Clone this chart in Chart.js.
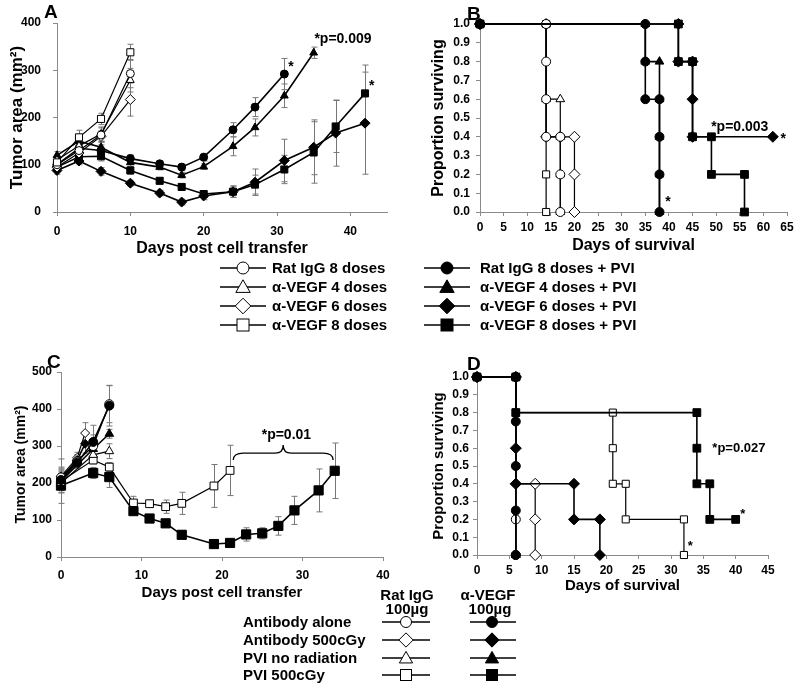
<!DOCTYPE html>
<html><head><meta charset="utf-8">
<script src="https://cdn.jsdelivr.net/npm/chart.js@4/dist/chart.umd.min.js"></script>
<style>
body{margin:0;background:#fff;width:800px;height:685px;overflow:hidden;position:relative;font-family:"Liberation Sans",Arial,sans-serif;}
canvas{position:absolute;}
.t{position:absolute;font-weight:bold;color:#000;white-space:nowrap;}
svg{position:absolute;overflow:visible;}
</style></head><body>
<canvas id="cA" width="400" height="265" style="left:0;top:0"></canvas>
<canvas id="cB" width="400" height="265" style="left:400px;top:0"></canvas>
<canvas id="cC" width="400" height="265" style="left:0;top:340px"></canvas>
<canvas id="cD" width="400" height="265" style="left:400px;top:340px"></canvas>
<div id="legends"></div>
<script>
// ---------- Panel A : tumor area ----------
const A_daysOpen = [0, 3, 6, 10];
const A_ratIgG8 = [100, 130, 163, 293];
const A_vegf4 = [110, 140, 165, 279];
const A_vegf6 = [95, 125, 160, 238];
const A_vegf8 = [105, 158, 197, 338];
const A_ratIgG8_err = [8, 12, 15, 30];
const A_vegf4_err = [8, 12, 15, 25];
const A_vegf6_err = [8, 10, 12, 35];
const A_vegf8_err = [8, 15, 12, 17];
const A_daysRatPVI = [0, 3, 6, 10, 14, 17, 20, 24, 27, 31];
const A_ratIgG8PVI = [100, 135, 130, 113, 102, 95, 116, 174, 222, 292];
const A_ratIgG8PVI_err = [8, 10, 12, 8, 6, 6, 8, 15, 20, 33];
const A_days4PVI = [0, 3, 6, 10, 14, 17, 20, 24, 27, 31, 35];
const A_vegf4PVI = [120, 150, 137, 105, 95, 78, 96, 139, 179, 246, 337];
const A_vegf4PVI_err = [8, 12, 12, 8, 6, 6, 6, 20, 18, 25, 12];
const A_days68PVI = [0, 3, 6, 10, 14, 17, 20, 24, 27, 31, 35, 38, 42];
const A_vegf6PVI = [88, 108, 86, 61, 40, 21, 34, 43, 63, 109, 137, 167, 188];
const A_vegf6PVI_err = [8, 8, 8, 6, 6, 6, 8, 12, 28, 45, 58, 70, 108];
const A_vegf8PVI = [95, 117, 118, 88, 66, 53, 38, 43, 58, 90, 126, 181, 251];
const A_vegf8PVI_err = [8, 10, 10, 8, 6, 6, 6, 12, 20, 30, 65, 55, 60];

// ---------- Panel B : survival ----------
const B_rat8_t = [0, 14, 14, 14, 14, 17, 17, 17];
const B_rat8_p = [1, 1, 0.8, 0.6, 0.4, 0.4, 0.2, 0];
const B_v4_t = [0, 14, 14, 17, 17, 17, 17];
const B_v4_p = [1, 1, 0.6, 0.6, 0.4, 0.2, 0];
const B_v6_t = [0, 14, 14, 17, 20, 20, 20];
const B_v6_p = [1, 1, 0.4, 0.4, 0.4, 0.2, 0];
const B_v8_t = [0, 14, 14, 14];
const B_v8_p = [1, 1, 0.2, 0];
const B_rat8PVI_t = [0, 35, 35, 35, 38, 38, 38, 38];
const B_rat8PVI_p = [1, 1, 0.8, 0.6, 0.6, 0.4, 0.2, 0];
const B_v4PVI_t = [0, 35, 35, 38, 38, 38, 38, 38];
const B_v4PVI_p = [1, 1, 0.8, 0.8, 0.6, 0.4, 0.2, 0];
const B_v6PVI_t = [0, 42, 42, 45, 45, 45, 62];
const B_v6PVI_p = [1, 1, 0.8, 0.8, 0.6, 0.4, 0.4];
const B_v8PVI_t = [0, 42, 42, 45, 45, 49, 49, 56, 56];
const B_v8PVI_p = [1, 1, 0.8, 0.8, 0.4, 0.4, 0.2, 0.2, 0];

// ---------- Panel C : tumor area ----------
const C_daysAlone = [0, 2, 4, 6];
const C_ratAlone = [215, 258, 300, 413];
const C_ratAlone_err = [25, 15, 30, 50];
const C_vegfAlone = [208, 255, 311, 409];
const C_vegfAlone_err = [25, 15, 45, 55];
const C_days500 = [0, 2, 3];
const C_rat500 = [218, 268, 335];
const C_rat500_err = [25, 15, 28];
const C_vegf500 = [212, 262, 306];
const C_vegf500_err = [25, 15, 25];
const C_daysPVI = [0, 4, 6];
const C_ratPVI = [200, 276, 286];
const C_ratPVI_err = [25, 18, 20];
const C_vegfPVI = [205, 292, 333];
const C_vegfPVI_err = [25, 20, 12];
const C_daysRatPVI500 = [0, 4, 6, 9, 11, 13, 15, 19, 21];
const C_ratPVI500 = [205, 262, 243, 146, 144, 136, 145, 192, 234];
const C_ratPVI500_err = [60, 10, 12, 18, 10, 18, 30, 58, 68];
const C_daysVegfPVI500 = [0, 4, 6, 9, 11, 13, 15, 19, 21, 23, 25, 27, 29, 32, 34];
const C_vegfPVI500 = [193, 227, 216, 124, 104, 91, 60, 35, 38, 61, 64, 84, 126, 180, 233];
const C_vegfPVI500_err = [20, 15, 28, 8, 8, 8, 10, 12, 8, 18, 15, 25, 38, 58, 75];

// ---------- Panel D : survival ----------
const D_ratAlone_t = [0, 6, 6, 6];
const D_ratAlone_p = [1, 1, 0.2, 0];
const D_vegfAlone_t = [0, 6, 6, 6, 6, 6];
const D_vegfAlone_p = [1, 1, 0.75, 0.5, 0.25, 0];
const D_rat500_t = [0, 6, 6, 9, 9, 9];
const D_rat500_p = [1, 1, 0.4, 0.4, 0.2, 0];
const D_vegf500_t = [0, 6, 6, 6, 15, 15, 19, 19];
const D_vegf500_p = [1, 1, 0.6, 0.4, 0.4, 0.2, 0.2, 0];
const D_ratPVI_t = [0, 6, 6];
const D_ratPVI_p = [1, 1, 0];
const D_vegfPVI_t = [0, 6, 6];
const D_vegfPVI_p = [1, 1, 0];
const D_ratPVI500_t = [0, 6, 6, 21, 21, 21, 23, 23, 32, 32];
const D_ratPVI500_p = [1, 1, 0.8, 0.8, 0.6, 0.4, 0.4, 0.2, 0.2, 0];
const D_vegfPVI500_t = [0, 6, 6, 34, 34, 34, 36, 36, 40];
const D_vegfPVI500_p = [1, 1, 0.8, 0.8, 0.6, 0.4, 0.4, 0.2, 0.2];

// ---------- Legend text ----------
const legendTopOpen = ['Rat IgG 8 doses', 'α-VEGF 4 doses', 'α-VEGF 6 doses', 'α-VEGF 8 doses'];
const legendTopFilled = ['Rat IgG 8 doses + PVI', 'α-VEGF 4 doses + PVI', 'α-VEGF 6 doses + PVI', 'α-VEGF 8 doses + PVI'];
const legendTopShapes = ['circle', 'triangle', 'rectRot', 'rect'];
const legendBottomRows = ['Antibody alone', 'Antibody 500cGy', 'PVI no radiation', 'PVI 500cGy'];
const legendBottomShapes = ['circle', 'rectRot', 'triangle', 'rect'];
const legendBottomHeads = [['Rat IgG', '100µg'], ['α-VEGF', '100µg']];

const FONT = '"Liberation Sans", Arial, sans-serif';
const AXC = '#8a8a8a';

function pts(xs, ys) { return xs.map((x, i) => ({ x: x, y: ys[i] })); }
function ds(label, xs, ys, shape, filled, r, errs) {
  return {
    label: label, data: pts(xs, ys), errors: errs, showLine: true, clip: false,
    borderColor: '#000', borderWidth: filled ? 1.6 : 1.2,
    pointStyle: shape, pointRadius: r, pointBackgroundColor: filled ? '#000' : '#fff',
    pointBorderColor: '#000', pointBorderWidth: 1, tension: 0
  };
}
function axis(o) {
  return {
    type: 'linear', min: o.min, max: o.max,
    afterFit: function (s) { if (s.isHorizontal()) s.height = o.size; else s.width = o.size; },
    border: { display: true, color: AXC, width: 1 },
    grid: { display: true, drawOnChartArea: false, drawTicks: true, tickLength: 4, color: AXC },
    ticks: {
      stepSize: o.step, includeBounds: false, padding: o.pad, color: '#000', autoSkip: false, maxRotation: 0,
      font: { family: FONT, size: o.fs, weight: 'bold' }, callback: o.cb
    },
    title: { display: true, text: o.title, color: '#000', font: { family: FONT, size: o.tfs, weight: 'bold' }, padding: o.tpad }
  };
}
const errPlugin = {
  id: 'errbars',
  beforeDatasetsDraw(chart) {
    const c = chart.ctx, xs = chart.scales.x, ys = chart.scales.y;
    c.save(); c.strokeStyle = '#777'; c.lineWidth = 1;
    chart.data.datasets.forEach(d => {
      if (!d.errors) return;
      d.data.forEach((p, j) => {
        const e = d.errors[j]; if (!e) return;
        const px = Math.round(xs.getPixelForValue(p.x)) + 0.5;
        const t = ys.getPixelForValue(p.y + e), b = ys.getPixelForValue(Math.max(0, p.y - e));
        c.beginPath(); c.moveTo(px, t); c.lineTo(px, b);
        c.moveTo(px - 3, t); c.lineTo(px + 3, t); c.moveTo(px - 3, b); c.lineTo(px + 3, b); c.stroke();
      });
    });
    c.restore();
  }
};
function notesPlugin(notes, bracket) {
  return {
    id: 'notes',
    afterDatasetsDraw(chart) {
      const c = chart.ctx, xs = chart.scales.x, ys = chart.scales.y;
      c.save(); c.fillStyle = '#000';
      notes.forEach(n => {
        c.font = 'bold ' + n.size + 'px ' + FONT; c.textAlign = 'center'; c.textBaseline = 'middle';
        c.fillText(n.text, xs.getPixelForValue(n.x), ys.getPixelForValue(n.y));
      });
      if (bracket) {
        const x1 = xs.getPixelForValue(bracket.x1), x2 = xs.getPixelForValue(bracket.x2), xm = xs.getPixelForValue(bracket.xm);
        const ye = ys.getPixelForValue(bracket.yEnd), yl = ys.getPixelForValue(bracket.yLine), yp = ys.getPixelForValue(bracket.yPeak);
        c.strokeStyle = '#000'; c.lineWidth = 1.3; c.beginPath();
        c.moveTo(x1, ye); c.quadraticCurveTo(x1, yl, x1 + 10, yl); c.lineTo(xm - 8, yl);
        c.quadraticCurveTo(xm, yl, xm, yp); c.quadraticCurveTo(xm, yl, xm + 8, yl);
        c.lineTo(x2 - 10, yl); c.quadraticCurveTo(x2, yl, x2, ye); c.stroke();
      }
      c.restore();
    }
  };
}
function make(id, datasets, xo, yo, pad, notes, bracket) {
  return new Chart(document.getElementById(id), {
    type: 'scatter',
    data: { datasets: datasets },
    options: {
      responsive: false, animation: false, events: [],
      layout: { padding: pad },
      plugins: { legend: { display: false }, tooltip: { enabled: false } },
      scales: { x: axis(xo), y: axis(yo) }
    },
    plugins: [errPlugin, notesPlugin(notes, bracket)]
  });
}
const dec1 = v => v.toFixed(1);

// Panel A
make('cA', [
  ds('α-VEGF 8 doses', A_daysOpen, A_vegf8, 'rect', false, 5, A_vegf8_err),
  ds('Rat IgG 8 doses', A_daysOpen, A_ratIgG8, 'circle', false, 4, A_ratIgG8_err),
  ds('α-VEGF 4 doses', A_daysOpen, A_vegf4, 'triangle', false, 4.5, A_vegf4_err),
  ds('α-VEGF 6 doses', A_daysOpen, A_vegf6, 'rectRot', false, 5, A_vegf6_err),
  ds('Rat IgG 8 doses + PVI', A_daysRatPVI, A_ratIgG8PVI, 'circle', true, 4, A_ratIgG8PVI_err),
  ds('α-VEGF 4 doses + PVI', A_days4PVI, A_vegf4PVI, 'triangle', true, 4.5, A_vegf4PVI_err),
  ds('α-VEGF 6 doses + PVI', A_days68PVI, A_vegf6PVI, 'rectRot', true, 5, A_vegf6PVI_err),
  ds('α-VEGF 8 doses + PVI', A_days68PVI, A_vegf8PVI, 'rect', true, 5, A_vegf8PVI_err)
], { min: 0, max: 45, step: 10, size: 53, pad: 8, fs: 12, title: 'Days post cell transfer', tfs: 16, tpad: { top: 0, bottom: 7 } },
   { min: 0, max: 400, step: 100, size: 57, pad: 12, fs: 12, title: 'Tumor area (mm²)', tfs: 17, tpad: { top: 7, bottom: 0 } },
   { left: 0, top: 23, right: 13, bottom: 0 },
   [{ x: 39, y: 366, text: '*p=0.009', size: 14 }, { x: 31.9, y: 306, text: '*', size: 14 }, { x: 42.9, y: 266, text: '*', size: 14 }]);

// Panel B
make('cB', [
  ds('Rat IgG 8 doses + PVI', B_rat8PVI_t, B_rat8PVI_p, 'circle', true, 4.5),
  ds('α-VEGF 4 doses + PVI', B_v4PVI_t, B_v4PVI_p, 'triangle', true, 5),
  ds('α-VEGF 6 doses + PVI', B_v6PVI_t, B_v6PVI_p, 'rectRot', true, 5.5),
  ds('α-VEGF 8 doses + PVI', B_v8PVI_t, B_v8PVI_p, 'rect', true, 5.5),
  ds('Rat IgG 8 doses', B_rat8_t, B_rat8_p, 'circle', false, 4.5),
  ds('α-VEGF 4 doses', B_v4_t, B_v4_p, 'triangle', false, 5),
  ds('α-VEGF 6 doses', B_v6_t, B_v6_p, 'rectRot', false, 5.5),
  ds('α-VEGF 8 doses', B_v8_t, B_v8_p, 'rect', false, 5)
], { min: 0, max: 65, step: 5, size: 53, pad: 4, fs: 12, title: 'Days of survival', tfs: 16, tpad: { top: 0, bottom: 10 } },
   { min: 0, max: 1, step: 0.1, size: 80, pad: 6, fs: 12, cb: dec1, title: 'Proportion surviving', tfs: 16, tpad: { top: 29, bottom: 0 } },
   { left: 0, top: 24, right: 13, bottom: 0 },
   [{ x: 55, y: 0.45, text: '*p=0.003', size: 14 }, { x: 39.8, y: 0.05, text: '*', size: 14 }, { x: 64.2, y: 0.39, text: '*', size: 14 }]);

// Panel C
make('cC', [
  ds('α-VEGF alone', C_daysAlone, C_vegfAlone, 'circle', true, 4.5, C_vegfAlone_err),
  ds('Rat IgG alone', C_daysAlone, C_ratAlone, 'circle', false, 4.5, C_ratAlone_err),
  ds('α-VEGF 500cGy', C_days500, C_vegf500, 'rectRot', true, 4.5, C_vegf500_err),
  ds('Rat IgG 500cGy', C_days500, C_rat500, 'rectRot', false, 4.5, C_rat500_err),
  ds('α-VEGF PVI', C_daysPVI, C_vegfPVI, 'triangle', true, 5, C_vegfPVI_err),
  ds('Rat IgG PVI', C_daysPVI, C_ratPVI, 'triangle', false, 5, C_ratPVI_err),
  ds('α-VEGF PVI 500cGy', C_daysVegfPVI500, C_vegfPVI500, 'rect', true, 6.5, C_vegfPVI500_err),
  ds('Rat IgG PVI 500cGy', C_daysRatPVI500, C_ratPVI500, 'rect', false, 5.5, C_ratPVI500_err)
], { min: 0, max: 40, step: 10, size: 48, pad: 7, fs: 12, title: 'Days post cell transfer', tfs: 15, tpad: { top: 0, bottom: 3 } },
   { min: 0, max: 500, step: 100, size: 61, pad: 5, fs: 12, title: 'Tumor area (mm²)', tfs: 14, tpad: { top: 13, bottom: 0 } },
   { left: 0, top: 32, right: 17, bottom: 0 },
   [{ x: 28, y: 330, text: '*p=0.01', size: 14 }],
   { x1: 21.4, x2: 33.8, xm: 27.6, yEnd: 262, yLine: 281, yPeak: 303 });

// Panel D
make('cD', [
  ds('α-VEGF alone', D_vegfAlone_t, D_vegfAlone_p, 'circle', true, 4.5),
  ds('α-VEGF 500cGy', D_vegf500_t, D_vegf500_p, 'rectRot', true, 5.5),
  ds('α-VEGF PVI', D_vegfPVI_t, D_vegfPVI_p, 'triangle', true, 5),
  ds('α-VEGF PVI 500cGy', D_vegfPVI500_t, D_vegfPVI500_p, 'rect', true, 5.5),
  ds('Rat IgG alone', D_ratAlone_t, D_ratAlone_p, 'circle', false, 4.5),
  ds('Rat IgG 500cGy', D_rat500_t, D_rat500_p, 'rectRot', false, 5.5),
  ds('Rat IgG PVI', D_ratPVI_t, D_ratPVI_p, 'triangle', false, 5),
  ds('Rat IgG PVI 500cGy', D_ratPVI500_t, D_ratPVI500_p, 'rect', false, 5)
], { min: 0, max: 45, step: 5, size: 50, pad: 4, fs: 12, title: 'Days of survival', tfs: 15, tpad: { top: 0, bottom: 10 } },
   { min: 0, max: 1, step: 0.1, size: 77, pad: 4, fs: 12, cb: dec1, title: 'Proportion surviving', tfs: 15, tpad: { top: 30, bottom: 0 } },
   { left: 0, top: 37, right: 32, bottom: 0 },
   [{ x: 40.5, y: 0.6, text: '*p=0.027', size: 13 }, { x: 33, y: 0.05, text: '*', size: 13 }, { x: 41.1, y: 0.23, text: '*', size: 13 }]);

// ---------- HTML legends ----------
const L = document.getElementById('legends');
const NS = 'http://www.w3.org/2000/svg';
function sym(left, cy, w, mx, shape, filled, r) {
  const s = document.createElementNS(NS, 'svg');
  s.setAttribute('width', w); s.setAttribute('height', 20);
  s.style.left = left + 'px'; s.style.top = (cy - 10) + 'px';
  const fill = filled ? '#000' : '#fff';
  let h = '<line x1="0" y1="10" x2="' + w + '" y2="10" stroke="#000" stroke-width="1.6"/>';
  if (shape === 'circle') h += '<circle cx="' + mx + '" cy="10" r="' + r + '" fill="' + fill + '" stroke="#000" stroke-width="1"/>';
  if (shape === 'rect') h += '<rect x="' + (mx - r) + '" y="' + (10 - r) + '" width="' + (2 * r) + '" height="' + (2 * r) + '" fill="' + fill + '" stroke="#000" stroke-width="1"/>';
  if (shape === 'rectRot') { const d = r * 1.3; h += '<polygon points="' + (mx - d) + ',10 ' + mx + ',' + (10 - d) + ' ' + (mx + d) + ',10 ' + mx + ',' + (10 + d) + '" fill="' + fill + '" stroke="#000" stroke-width="1"/>'; }
  if (shape === 'triangle') { const d = r * 1.2; h += '<polygon points="' + mx + ',' + (10 - d) + ' ' + (mx - d) + ',' + (10 + d * 0.75) + ' ' + (mx + d) + ',' + (10 + d * 0.75) + '" fill="' + fill + '" stroke="#000" stroke-width="1"/>'; }
  s.innerHTML = h; L.appendChild(s);
}
function txt(text, left, cy, size, center) {
  const d = document.createElement('div'); d.className = 't'; d.textContent = text;
  d.style.fontSize = size + 'px'; d.style.lineHeight = '18px'; d.style.top = (cy - 9) + 'px';
  if (center) { d.style.left = (left - 60) + 'px'; d.style.width = '120px'; d.style.textAlign = 'center'; }
  else d.style.left = left + 'px';
  L.appendChild(d);
}
const topRowsY = [268, 287, 306, 325];
legendTopOpen.forEach((t, i) => { sym(220, topRowsY[i], 46, 23, legendTopShapes[i], false, 6); txt(t, 272, topRowsY[i], 15); });
legendTopFilled.forEach((t, i) => { sym(424, topRowsY[i], 46, 23, legendTopShapes[i], true, 6); txt(t, 480, topRowsY[i], 15); });
const botRowsY = [622, 640, 658, 675];
txt(legendBottomHeads[0][0], 407, 595, 15, true); txt(legendBottomHeads[0][1], 407, 609, 15, true);
txt(legendBottomHeads[1][0], 488, 595, 15, true); txt(legendBottomHeads[1][1], 490, 609, 15, true);
legendBottomRows.forEach((t, i) => {
  txt(t, 243, botRowsY[i], 15);
  sym(382, botRowsY[i], 48, 24, legendBottomShapes[i], false, 5.5);
  sym(470, botRowsY[i], 46, 22, legendBottomShapes[i], true, 5.5);
});
// panel letters
[['A', 44, 2], ['B', 467, 4], ['C', 47, 352], ['D', 467, 354]].forEach(p => {
  const d = document.createElement('div'); d.className = 't'; d.textContent = p[0];
  d.style.fontSize = '19px'; d.style.lineHeight = '19px'; d.style.left = p[1] + 'px'; d.style.top = p[2] + 'px';
  L.appendChild(d);
});
</script>
</body></html>
